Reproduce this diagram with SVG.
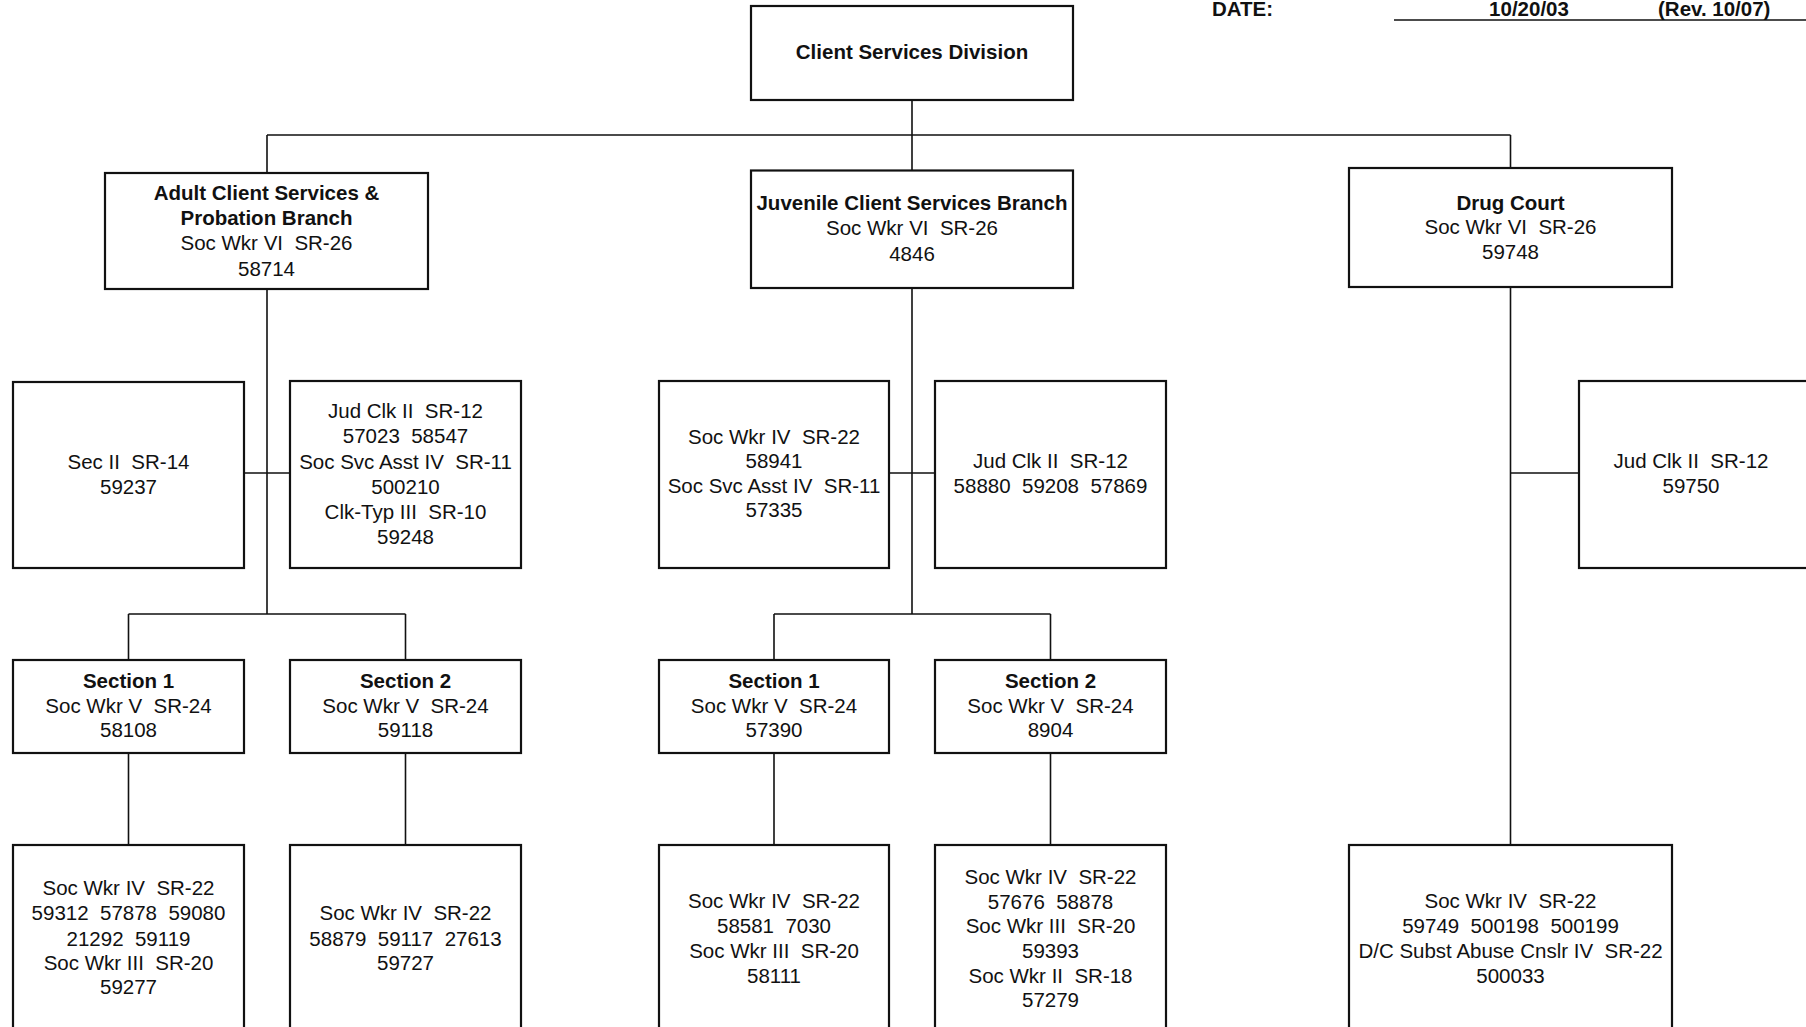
<svg xmlns="http://www.w3.org/2000/svg" width="1806" height="1027" viewBox="0 0 1806 1027" xml:space="preserve">
<style>
.box{fill:#fff;stroke:#111;stroke-width:2.2}
.c{fill:none;stroke:#111;stroke-width:1.6}
text{font-family:"Liberation Sans",Arial,sans-serif;font-size:20.5px;fill:#111;text-anchor:middle;white-space:pre}
.b{font-weight:bold}
</style>
<rect width="1806" height="1027" fill="#fff"/>
<g id="header">
<text class="b" x="1212" y="16" style="text-anchor:start">DATE:</text>
<text class="b" x="1529" y="16">10/20/03</text>
<text class="b" x="1658" y="16" style="text-anchor:start">(Rev. 10/07)</text>
<line x1="1394" y1="20" x2="1806" y2="20" stroke="#111" stroke-width="1.6"/>
</g>
<g id="connectors">
<path class="c" d="M912 100V135M267 135H1510.5M267 135V173M912 135V170M1510.5 135V168"/>
<path class="c" d="M267 289V614M128.5 614H405.5M128.5 614V660M405.5 614V660M244 473H290M128.5 753V845M405.5 753V845"/>
<path class="c" d="M912 288V614M774 614H1050.5M774 614V660M1050.5 614V660M889 473H935M774 753V845M1050.5 753V845"/>
<path class="c" d="M1510.5 287V845M1510.5 473H1579"/>
</g>
<g id="csd">
<rect class="box" x="751" y="6" width="322" height="94"/>
<text class="b" x="912" y="59">Client Services Division</text>
</g>
<g id="adult">
<rect class="box" x="105" y="173" width="323" height="116"/>
<text class="b" x="266.5" y="199.5">Adult Client Services &amp;</text>
<text class="b" x="266.5" y="225">Probation Branch</text>
<text x="266.5" y="250">Soc Wkr VI  SR-26</text>
<text x="266.5" y="275.5">58714</text>
</g>
<g id="juvenile">
<rect class="box" x="751" y="170.5" width="322" height="117.5"/>
<text class="b" x="912" y="210">Juvenile Client Services Branch</text>
<text x="912" y="235">Soc Wkr VI  SR-26</text>
<text x="912" y="260.5">4846</text>
</g>
<g id="drug">
<rect class="box" x="1349" y="168" width="323" height="119"/>
<text class="b" x="1510.5" y="210">Drug Court</text>
<text x="1510.5" y="234">Soc Wkr VI  SR-26</text>
<text x="1510.5" y="259">59748</text>
</g>
<g id="adult-sec">
<rect class="box" x="13" y="382" width="231" height="186"/>
<text x="128.5" y="469">Sec II  SR-14</text>
<text x="128.5" y="494">59237</text>
</g>
<g id="adult-clk">
<rect class="box" x="290" y="381" width="231" height="187"/>
<text x="405.5" y="418">Jud Clk II  SR-12</text>
<text x="405.5" y="443">57023  58547</text>
<text x="405.5" y="468.5">Soc Svc Asst IV  SR-11</text>
<text x="405.5" y="494">500210</text>
<text x="405.5" y="519">Clk-Typ III  SR-10</text>
<text x="405.5" y="544">59248</text>
</g>
<g id="juv-staff">
<rect class="box" x="659" y="381" width="230" height="187"/>
<text x="774" y="443.5">Soc Wkr IV  SR-22</text>
<text x="774" y="468">58941</text>
<text x="774" y="493">Soc Svc Asst IV  SR-11</text>
<text x="774" y="517">57335</text>
</g>
<g id="juv-clk">
<rect class="box" x="935" y="381" width="231" height="187"/>
<text x="1050.5" y="468">Jud Clk II  SR-12</text>
<text x="1050.5" y="493">58880  59208  57869</text>
</g>
<g id="drug-clk">
<rect class="box" x="1579" y="381" width="240" height="187"/>
<text x="1691" y="468">Jud Clk II  SR-12</text>
<text x="1691" y="493">59750</text>
</g>
<g id="adult-s1">
<rect class="box" x="13" y="660" width="231" height="93"/>
<text class="b" x="128.5" y="688">Section 1</text>
<text x="128.5" y="713">Soc Wkr V  SR-24</text>
<text x="128.5" y="737">58108</text>
</g>
<g id="adult-s2">
<rect class="box" x="290" y="660" width="231" height="93"/>
<text class="b" x="405.5" y="688">Section 2</text>
<text x="405.5" y="713">Soc Wkr V  SR-24</text>
<text x="405.5" y="737">59118</text>
</g>
<g id="juv-s1">
<rect class="box" x="659" y="660" width="230" height="93"/>
<text class="b" x="774" y="688">Section 1</text>
<text x="774" y="713">Soc Wkr V  SR-24</text>
<text x="774" y="737">57390</text>
</g>
<g id="juv-s2">
<rect class="box" x="935" y="660" width="231" height="93"/>
<text class="b" x="1050.5" y="688">Section 2</text>
<text x="1050.5" y="713">Soc Wkr V  SR-24</text>
<text x="1050.5" y="737">8904</text>
</g>
<g id="adult-s1-staff">
<rect class="box" x="13" y="845" width="231" height="200"/>
<text x="128.5" y="895">Soc Wkr IV  SR-22</text>
<text x="128.5" y="920">59312  57878  59080</text>
<text x="128.5" y="945.5">21292  59119</text>
<text x="128.5" y="970">Soc Wkr III  SR-20</text>
<text x="128.5" y="994">59277</text>
</g>
<g id="adult-s2-staff">
<rect class="box" x="290" y="845" width="231" height="200"/>
<text x="405.5" y="920">Soc Wkr IV  SR-22</text>
<text x="405.5" y="945.5">58879  59117  27613</text>
<text x="405.5" y="970">59727</text>
</g>
<g id="juv-s1-staff">
<rect class="box" x="659" y="845" width="230" height="200"/>
<text x="774" y="908">Soc Wkr IV  SR-22</text>
<text x="774" y="933">58581  7030</text>
<text x="774" y="958">Soc Wkr III  SR-20</text>
<text x="774" y="983">58111</text>
</g>
<g id="juv-s2-staff">
<rect class="box" x="935" y="845" width="231" height="200"/>
<text x="1050.5" y="883.5">Soc Wkr IV  SR-22</text>
<text x="1050.5" y="909">57676  58878</text>
<text x="1050.5" y="933">Soc Wkr III  SR-20</text>
<text x="1050.5" y="958">59393</text>
<text x="1050.5" y="983">Soc Wkr II  SR-18</text>
<text x="1050.5" y="1007">57279</text>
</g>
<g id="drug-staff">
<rect class="box" x="1349" y="845" width="323" height="200"/>
<text x="1510.5" y="908">Soc Wkr IV  SR-22</text>
<text x="1510.5" y="933">59749  500198  500199</text>
<text x="1510.5" y="958">D/C Subst Abuse Cnslr IV  SR-22</text>
<text x="1510.5" y="983">500033</text>
</g>
</svg>
